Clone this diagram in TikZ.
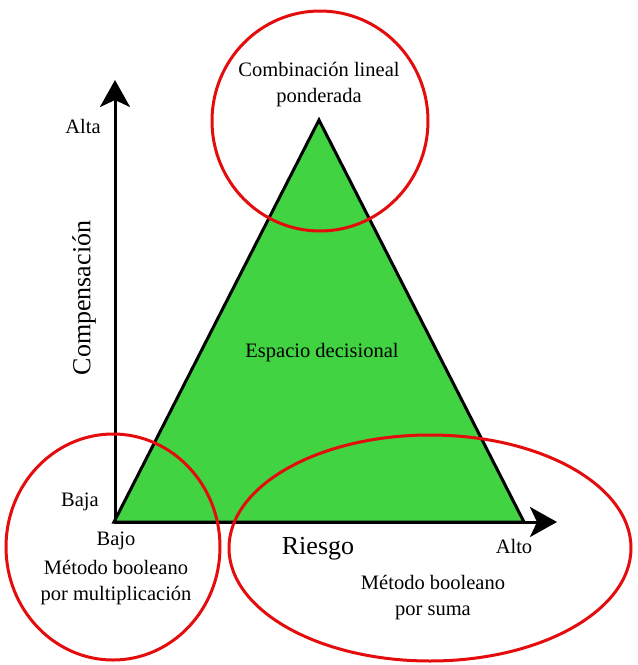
\documentclass[tikz,border=0pt]{standalone}
\usepackage{fontspec}
\setmainfont{Liberation Serif}
\usetikzlibrary{arrows.meta}
\definecolor{tri}{RGB}{65,211,65}
\definecolor{ring}{RGB}{228,12,12}
\tikzset{
  lbl/.style={font=\fontsize{20.5}{26}\selectfont, align=center, inner sep=0pt},
  big/.style={font=\fontsize{26}{30}\selectfont, inner sep=0pt},
  axis/.style={line width=3pt, -{Stealth[length=27pt,width=30pt,inset=7pt]}},
  zone/.style={draw=ring, line width=3pt}
}
\begin{document}
\begin{tikzpicture}[x=1pt,y=-1pt]
\useasboundingbox (0,0) rectangle (638,665);
% triangle
\coordinate (A) at (319,120);
\coordinate (B) at (114,522);
\coordinate (C) at (524,522);
\filldraw[fill=tri, draw=black, line width=3pt, line join=miter] (A) -- (B) -- (C) -- cycle;
% axes
\coordinate (O) at (115,522);
\coordinate (Ytip) at (115,80);
\coordinate (Xtip) at (557,522);
\draw[axis] (O) -- (Ytip);
\draw[axis] (114,522) -- (Xtip);
% circles
\draw[zone] (320,121) ellipse [x radius=108, y radius=110];
\draw[zone] (113,547) ellipse [x radius=107, y radius=113];
\draw[zone] (430,548) ellipse [x radius=201, y radius=113];
% labels
\node[lbl] (top) at (319,85) {Combinación lineal\\ponderada};
\node[lbl] (alta) at (83,126) {Alta};
\node[lbl] (baja) at (80,502) {Baja};
\node[lbl] (bajo) at (116,541) {Bajo};
\node[lbl] (alto) at (514,546) {Alto};
\node[big, rotate=90] (comp) at (84,298) {Compensación};
\node[big] (riesgo) at (318,549) {Riesgo};
\node[lbl] (esp) at (322,353) {Espacio decisional};
\node[lbl] (mult) at (116,583) {Método booleano\\por multiplicación};
\node[lbl] (suma) at (433,598) {Método booleano\\por suma};
\end{tikzpicture}
\end{document}
